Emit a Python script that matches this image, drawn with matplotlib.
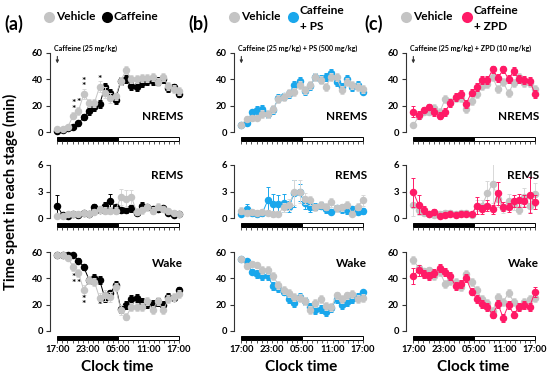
import numpy as np
import matplotlib
matplotlib.use("Agg")
import matplotlib.pyplot as plt
import matplotlib.transforms as mtransforms
from matplotlib.patches import Rectangle
from matplotlib.lines import Line2D

plt.rcParams['font.family'] = ['Lato', 'DejaVu Sans']
plt.rcParams['font.weight'] = 'bold'

# 24 hourly bins spread over the 24 h recording (17:00 -> 17:00)
n_bins = 24
tick_pos = [0, 6, 12, 18, 24]
tick_labels = ['17:00', '23:00', '05:00', '11:00', '17:00']

# ---------------- (a) vehicle vs caffeine ----------------
veh_a_nrem = [2, 2.5, 4, 12.5, 16, 29, 22, 22, 34.5, 30, 26, 27, 39, 47, 40, 40, 41, 41, 42, 38, 42, 35, 33, 31]
caf_a_nrem = [1, 1.5, 3, 3.5, 6.5, 11.5, 16, 19, 21, 34.5, 30, 24.5, 39, 40.5, 35, 34.5, 37.5, 39, 39, 39, 40, 33.5, 34, 28.5]
veh_a_nrem_err = [1, 1, 1.5, 3, 3, 4, 3, 3, 4, 4, 4, 3, 3, 3, 3, 3, 3, 3, 3, 3, 3, 3, 3, 3]
caf_a_nrem_err = [1, 1, 1, 1.5, 2, 2.5, 3, 3, 3, 3, 3, 3, 3, 3, 3, 3, 3, 3, 3, 3, 3, 3, 2.5, 2]

veh_a_rem = [0.2, 0.2, 0.4, 0.5, 0.5, 0.6, 0.5, 0.7, 1.0, 0.8, 0.8, 0.8, 2.4, 2.2, 2.4, 0.7, 0.9, 1.2, 0.8, 1.3, 1.0, 0.8, 0.6, 0.4]
caf_a_rem = [1.4, 0.3, 0.2, 0.4, 0.3, 0.6, 0.5, 1.2, 0.9, 1.4, 1.9, 1.2, 0.9, 0.9, 1.1, 0.6, 1.4, 1.2, 1.0, 1.0, 1.1, 0.6, 0.3, 0.5]
veh_a_rem_err = [0.2, 0.2, 0.2, 0.3, 0.3, 0.3, 0.3, 0.3, 0.4, 0.4, 0.4, 0.4, 0.9, 1.0, 0.8, 0.4, 0.4, 0.4, 0.4, 0.4, 0.3, 0.3, 0.3, 0.3]
caf_a_rem_err = [1.2, 0.2, 0.2, 0.2, 0.2, 0.3, 0.3, 0.4, 0.3, 0.4, 0.8, 0.4, 0.3, 0.3, 0.4, 0.3, 0.4, 0.3, 0.3, 0.3, 0.3, 0.3, 0.2, 0.2]

veh_a_wake = [58, 58, 55.5, 48.5, 44, 31, 39, 37.5, 25, 27, 26, 33.5, 16, 11, 18, 18, 18, 23, 16, 23, 16, 24, 26, 28]
caf_a_wake = [57.5, 57.5, 58, 57.5, 53.5, 48.5, 39, 40.5, 38.5, 25, 28.5, 35, 17, 19.5, 24.5, 25, 22, 20.5, 20.5, 22, 19.5, 26, 25, 31.5]
veh_a_wake_err = [1, 1, 1.5, 3, 3, 4, 3, 3, 4, 4, 4, 3, 4, 3, 3, 3, 3, 3, 3, 3, 3, 3, 3, 3]
caf_a_wake_err = [1, 1, 1, 1.5, 2, 2.5, 3, 3, 3, 3, 3, 3, 3, 3, 3, 3, 3, 3, 3, 3, 3, 3, 2.5, 2]

# significance marks (a): bin index, value where the marks sit, mark text
star_a_nrem = [(3, 19.5, '*\n*'), (4, 22.5, '*'), (5, 36.5, '*\n*'), (8, 40, '*')]
star_a_wake = [(3, 38.5, '*\n*'), (4, 36, '*'), (5, 22, '*\n*'), (8, 19.5, '*')]

# ---------------- (b) vehicle vs caffeine + PS ----------------
veh_b_nrem = [5.5, 10, 10.5, 11, 13.5, 14, 17.5, 25, 26.5, 29.5, 30.5, 35.5, 32, 35.5, 42, 39.5, 34.5, 42, 41.5, 32, 38, 36, 34, 33]
cps_b_nrem = [5, 7, 15, 17, 17.5, 14, 17, 25.5, 27, 29, 36, 38.5, 31, 35, 42, 40, 41.5, 44.5, 38, 34, 40, 34, 35.5, 30.5]
veh_b_nrem_err = [1, 2, 2, 2, 3, 3, 3, 3, 3, 3, 3, 3, 3, 3, 3, 3, 3, 3, 3, 3, 3, 3, 3, 3]
cps_b_nrem_err = [1, 2, 2, 3, 3, 3, 3, 3, 3, 3, 3, 3, 3, 3, 3, 3, 3, 3, 3, 3, 3, 3, 3, 2]

veh_b_rem = [0.8, 0.6, 0.7, 0.6, 0.7, 0.6, 0.4, 0.5, 1.2, 1.5, 2.9, 3.0, 2.2, 2.0, 1.2, 1.5, 1.3, 1.8, 1.1, 1.2, 1.5, 0.5, 1.3, 2.0]
cps_b_rem = [0.5, 1.0, 0.6, 0.5, 0.6, 2.0, 1.6, 1.6, 1.7, 1.3, 2.8, 2.9, 1.7, 1.2, 1.3, 1.4, 1.0, 0.7, 1.1, 1.0, 0.9, 1.0, 0.7, 0.8]
veh_b_rem_err = [0.4, 0.3, 0.3, 0.3, 0.3, 0.3, 0.3, 0.3, 0.5, 0.6, 1.4, 1.3, 0.6, 0.5, 0.4, 0.4, 0.4, 0.5, 0.4, 0.4, 0.4, 0.3, 0.4, 0.6]
cps_b_rem_err = [0.3, 0.6, 0.3, 0.3, 0.3, 1.5, 1.1, 1.0, 1.0, 0.6, 1.5, 1.0, 0.7, 0.5, 0.4, 0.4, 0.4, 0.3, 0.4, 0.4, 0.4, 0.4, 0.3, 0.3]

veh_b_wake = [55, 49, 51, 50, 46, 46, 42, 35, 31, 29, 26, 25, 23, 16, 21, 24, 19, 18, 27, 24, 27, 28, 24, 25]
cps_b_wake = [55, 53, 45, 43, 42, 42, 34, 33, 30, 24, 21, 26, 23, 18, 16, 17, 14.5, 17.5, 24, 19.5, 22, 24, 26, 29.5]
veh_b_wake_err = [1, 2, 2, 2, 3, 3, 3, 3, 3, 3, 3, 3, 3, 3, 3, 3, 3, 3, 3, 3, 3, 3, 3, 3]
cps_b_wake_err = [1, 2, 2, 3, 3, 3, 3, 3, 3, 3, 3, 3, 3, 3, 3, 3, 3, 3, 3, 3, 3, 3, 3, 2]

# ---------------- (c) vehicle vs caffeine + ZPD ----------------
veh_c_nrem = [5, 12, 15.5, 15, 18.5, 15, 25, 23, 25.5, 26, 17.5, 23.5, 28.5, 35, 36.5, 41.5, 32.5, 38, 29.5, 37.5, 41.5, 37, 37, 33]
czp_c_nrem = [15.5, 13, 17, 19, 15.5, 12.5, 15.5, 22, 26.5, 29, 21.5, 30, 34.5, 39.5, 39.5, 47.5, 41, 47.5, 40, 46.5, 40, 39.5, 39, 29]
veh_c_nrem_err = [1.5, 2, 2, 2, 3, 3, 3, 3, 3, 3, 3, 3, 3, 3, 3, 3, 3, 3, 3, 3, 3, 3, 3, 3]
czp_c_nrem_err = [4, 3, 2, 2, 3, 3, 3, 3, 3, 3, 3, 3, 3, 3, 3, 3, 3, 3, 3, 3, 3, 3, 3, 3]

veh_c_rem = [1.5, 0.9, 0.6, 0.5, 0.3, 0.5, 0.6, 0.6, 0.5, 0.6, 0.6, 0.3, 1.4, 1.4, 2.8, 3.9, 2.1, 1.1, 1.9, 1.6, 0.9, 2.4, 1.4, 2.7]
czp_c_rem = [2.9, 1.5, 0.9, 0.4, 0.7, 0.2, 0.3, 0.4, 0.3, 0.4, 0.5, 0.4, 1.4, 1.0, 1.4, 1.0, 2.8, 1.3, 1.2, 1.9, 2.0, 1.9, 2.6, 1.8]
veh_c_rem_err = [1.3, 0.6, 0.3, 0.3, 0.2, 0.3, 0.3, 0.3, 0.3, 0.3, 0.3, 0.2, 0.6, 0.6, 1.4, 2.2, 0.9, 0.5, 0.8, 0.7, 0.5, 1.0, 0.7, 1.3]
czp_c_rem_err = [1.6, 1.1, 0.5, 0.2, 0.3, 0.2, 0.2, 0.2, 0.2, 0.2, 0.2, 0.2, 1.0, 0.5, 0.6, 0.5, 1.3, 0.5, 0.5, 0.7, 0.7, 0.7, 2.0, 0.8]

veh_c_wake = [54, 48, 45.5, 46.5, 41.5, 45, 36, 38, 37, 33.5, 43, 37, 31, 24, 21, 15, 26, 22, 29, 22, 18, 22, 24.5, 25]
czp_c_wake = [42, 46, 43.5, 41.5, 44, 48, 45, 41.5, 34, 36, 40, 30, 24.5, 20.5, 18, 12.5, 20.5, 10, 20, 12.5, 18.5, 20, 18.5, 29.5]
veh_c_wake_err = [3, 2, 2, 2, 3, 3, 3, 3, 3, 3, 3, 3, 3, 3, 3, 3, 3, 3, 3, 3, 3, 3, 3, 3]
czp_c_wake_err = [6, 4, 3, 3, 3, 3, 3, 3, 3, 3, 3, 3, 3, 3, 3, 3, 3, 3, 3, 3, 3, 3, 3, 4]

c_veh = '#c4c4c4'
c_veh_err = '#d8d8d8'
c_caf = '#000000'
c_ps = '#1aa7ec'
c_zpd = '#ff1a66'

W, H = 550, 377
fig = plt.figure(figsize=(W / 100, H / 100), dpi=100)

col_left = [50, 234, 406]
col_w = 133
rows = [(53, 132, 60, [0, 20, 40, 60]), (165, 218, 6, [0, 3, 6]), (252, 331, 60, [0, 20, 40, 60])]
stage_names = ['NREMS', 'REMS', 'Wake']
stage_y = [0.19, 0.81, 0.86]

x = np.linspace(0, 24, n_bins)

panels = [
    [(veh_a_nrem, veh_a_nrem_err, caf_a_nrem, caf_a_nrem_err),
     (veh_a_rem, veh_a_rem_err, caf_a_rem, caf_a_rem_err),
     (veh_a_wake, veh_a_wake_err, caf_a_wake, caf_a_wake_err)],
    [(veh_b_nrem, veh_b_nrem_err, cps_b_nrem, cps_b_nrem_err),
     (veh_b_rem, veh_b_rem_err, cps_b_rem, cps_b_rem_err),
     (veh_b_wake, veh_b_wake_err, cps_b_wake, cps_b_wake_err)],
    [(veh_c_nrem, veh_c_nrem_err, czp_c_nrem, czp_c_nrem_err),
     (veh_c_rem, veh_c_rem_err, czp_c_rem, czp_c_rem_err),
     (veh_c_wake, veh_c_wake_err, czp_c_wake, czp_c_wake_err)],
]
treat_colors = [c_caf, c_ps, c_zpd]
arrow_texts = ['Caffeine (25 mg/kg)', 'Caffeine (25 mg/kg) + PS (500 mg/kg)',
               'Caffeine (25 mg/kg) + ZPD (10 mg/kg)']


def draw_series(ax, y, err, color, ecolor, z):
    ax.errorbar(x, y, yerr=err, fmt='none', ecolor=ecolor, elinewidth=0.7,
                capsize=1.3, capthick=0.7, zorder=z)
    ax.plot(x, y, '-', color=color, lw=0.7, zorder=z + 0.1, clip_on=False)
    ax.plot(x, y, 'o', color=color, ms=5.4, mec='none', zorder=z + 0.2, clip_on=False)


for ci in range(3):
    for ri in range(3):
        top, bot, ymax, yt = rows[ri]
        ax = fig.add_axes([col_left[ci] / W, 1 - bot / H, col_w / W, (bot - top) / H])
        veh, veh_err, trt, trt_err = panels[ci][ri]
        tc = treat_colors[ci]
        if ci == 2:
            draw_series(ax, veh, veh_err, c_veh, c_veh_err, 2)
            draw_series(ax, trt, trt_err, tc, tc, 3)
        else:
            draw_series(ax, trt, trt_err, tc, tc, 2)
            draw_series(ax, veh, veh_err, c_veh, c_veh_err, 3)

        ax.set_xlim(-1.45, 24.8)
        ax.set_ylim(0, ymax)
        ax.set_yticks(yt)
        ax.tick_params(axis='y', length=3, width=0.8, pad=2, labelsize=6.8, color='#333333')
        for lab in ax.get_yticklabels():
            lab.set_fontweight('bold')
        for s in ['top', 'right']:
            ax.spines[s].set_visible(False)
        ax.spines['left'].set_linewidth(0.8)
        ax.spines['left'].set_color('#333333')
        ax.spines['bottom'].set_visible(False)
        ax.spines['bottom'].set_position(('outward', 6.3))
        ax.set_xticks(np.arange(0, 25), minor=True)
        ax.tick_params(axis='x', which='both', length=2.2, width=0.6, direction='out',
                       color='#333333', pad=1.5, labelsize=6.8)
        if ri == 2:
            ax.set_xticks(tick_pos, tick_labels)
            for lab in ax.get_xticklabels():
                lab.set_fontweight('bold')
        else:
            ax.set_xticks(tick_pos, [''] * len(tick_pos))

        # light/dark bar under each plot
        hpx = bot - top
        trans = mtransforms.blended_transform_factory(ax.transData, ax.transAxes)
        ax.add_patch(Rectangle((0, -8.6 / hpx), 12, 3.4 / hpx, transform=trans,
                               facecolor='black', edgecolor='black', lw=0.7, clip_on=False))
        ax.add_patch(Rectangle((12, -8.6 / hpx), 12, 3.4 / hpx, transform=trans,
                               facecolor='white', edgecolor='black', lw=0.7, clip_on=False))

        ax.text(1.0, stage_y[ri], stage_names[ri], transform=ax.transAxes,
                ha='right', va='center', fontsize=8.5, fontweight='bold')

        if ri == 0:
            ax.annotate('', xy=(0, 50), xytext=(0, 59.5),
                        arrowprops=dict(arrowstyle='-|>', lw=0.8, color='#333333',
                                        mutation_scale=4), annotation_clip=False)
            ax.text(-0.6, 63.5, arrow_texts[ci], fontsize=5.1, fontweight='bold',
                    ha='left', va='center')
            if ci == 0:
                for i, v, s in star_a_nrem:
                    ax.text(x[i], v, s, ha='center', va='center', fontsize=7.5,
                            fontweight='bold', linespacing=0.5)
        if ri == 2 and ci == 0:
            for i, v, s in star_a_wake:
                ax.text(x[i], v, s, ha='center', va='center', fontsize=7.5,
                        fontweight='bold', linespacing=0.5)

        if ri == 2:
            fig.text((col_left[ci] + 7 + 60.5) / W, 1 - 367 / H, 'Clock time',
                     ha='center', va='center', fontsize=11, fontweight='bold')

# y label
fig.text(10 / W, 1 - 192 / H, 'Time spent in each stage (min)', rotation=90,
         ha='center', va='center', fontsize=10.5, fontweight='bold')

# panel letters and legends
letters = [('(a)', 4), ('(b)', 188), ('(c)', 364)]
for t, px in letters:
    fig.text(px / W, 1 - 24 / H, t, ha='left', va='center', fontsize=13, fontweight='bold')


def leg_marker(px, py, color):
    fig.add_artist(Line2D([px / W], [1 - py / H], marker='o', ms=8, color=color, mec='none',
                          transform=fig.transFigure))


leg_fs = 8.6
leg_marker(49, 17, c_veh)
fig.text(56 / W, 1 - 17 / H, 'Vehicle', va='center', fontsize=leg_fs, fontweight='bold')
leg_marker(107, 17, c_caf)
fig.text(114 / W, 1 - 17 / H, 'Caffeine', va='center', fontsize=leg_fs, fontweight='bold')

leg_marker(234, 17, c_veh)
fig.text(241 / W, 1 - 17 / H, 'Vehicle', va='center', fontsize=leg_fs, fontweight='bold')
leg_marker(293, 17, c_ps)
fig.text(300 / W, 1 - 10 / H, 'Caffeine', va='center', fontsize=leg_fs, fontweight='bold')
fig.text(300 / W, 1 - 26 / H, '+ PS', va='center', fontsize=leg_fs, fontweight='bold')

leg_marker(406, 17, c_veh)
fig.text(413 / W, 1 - 17 / H, 'Vehicle', va='center', fontsize=leg_fs, fontweight='bold')
leg_marker(467, 17, c_zpd)
fig.text(474 / W, 1 - 10 / H, 'Caffeine', va='center', fontsize=leg_fs, fontweight='bold')
fig.text(474 / W, 1 - 26 / H, '+ ZPD', va='center', fontsize=leg_fs, fontweight='bold')

fig.savefig('out.png', dpi=100)
